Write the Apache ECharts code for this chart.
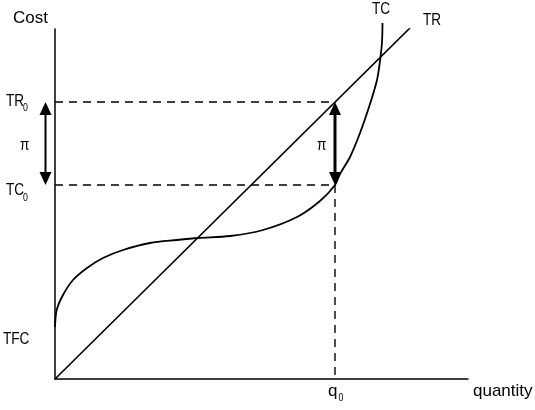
<!DOCTYPE html>
<html>
<head>
<meta charset="utf-8">
<script src="https://cdn.jsdelivr.net/npm/echarts@6/dist/echarts.min.js"></script>
<style>html,body{margin:0;padding:0;background:#fff;}#c{width:535px;height:410px;}</style>
</head>
<body>
<div id="c"></div>
<script>
// ---- data (arbitrary units: quantity on x, cost/revenue on y) ----
const tcCurve = [
  [0, 52], [1.7, 69], [8, 84], [18, 99], [32, 111], [48, 121], [68, 129],
  [95, 136], [122, 139], [143, 141], [175, 143], [208, 149], [242, 162],
  [265, 178], [280, 194], [285, 205], [295, 222], [305, 246], [315, 275],
  [322, 299], [325, 318], [327, 337], [327.5, 356]
];
const trLine = [[0, 0], [360, 356]];
const q0 = 280;
const TR0 = 277;
const TC0 = 194;
const leftArrowX = -9.5;
// arrows: [x, from, to]
const arrows = [[leftArrowX, TC0, TR0], [q0, TC0, TR0]];
const xMax = 413, yMax = 350;

const shaftWidths = [2, 3];
const fam = '"Liberation Sans", Arial, sans-serif';

// text placed with its left edge at x and vertical middle at y; sx = horizontal squeeze (narrow face)
function txt(text, x, y, size, sx) {
  return {
    type: 'text', x: x, y: y, scaleX: sx || 1,
    style: { text: text, font: size + 'px ' + fam, fill: '#000', align: 'left', verticalAlign: 'middle' }
  };
}
const N = 0.8;

const chart = echarts.init(document.getElementById('c'), null, { renderer: 'canvas' });
chart.setOption({
  animation: false,
  backgroundColor: '#fff',
  grid: { left: 55, top: 29, width: 413, height: 350, containLabel: false },
  xAxis: {
    type: 'value', min: 0, max: xMax,
    axisLine: { show: true, lineStyle: { color: '#000', width: 1.5 } },
    axisTick: { show: false }, axisLabel: { show: false }, splitLine: { show: false }
  },
  yAxis: {
    type: 'value', min: 0, max: yMax,
    axisLine: { show: true, lineStyle: { color: '#000', width: 1.5 } },
    axisTick: { show: false }, axisLabel: { show: false }, splitLine: { show: false }
  },
  series: [
    {
      name: 'TR0 level', type: 'line', symbol: 'none', silent: true,
      data: [[0, TR0], [q0, TR0]],
      lineStyle: { color: '#000', width: 1.4, type: [8, 6] }
    },
    {
      name: 'TC0 level', type: 'line', symbol: 'none', silent: true,
      data: [[0, TC0], [q0, TC0]],
      lineStyle: { color: '#000', width: 1.4, type: [8, 6] }
    },
    {
      name: 'q0 level', type: 'line', symbol: 'none', silent: true,
      data: [[q0, TC0], [q0, 0]],
      lineStyle: { color: '#000', width: 1.4, type: [8, 6] }
    },
    {
      name: 'TR', type: 'line', symbol: 'none', data: trLine,
      lineStyle: { color: '#000', width: 1.6 }
    },
    {
      name: 'TC', type: 'line', symbol: 'none', data: tcCurve, smooth: 0.3, clip: false,
      lineStyle: { color: '#000', width: 1.8 }
    },
    {
      name: 'profit', type: 'custom', clip: false, data: arrows,
      renderItem: function (params, api) {
        const a = api.coord([api.value(0), api.value(1)]);
        const b = api.coord([api.value(0), api.value(2)]);
        const x = a[0], yBot = a[1], yTop = b[1];
        const hl = 13, hw = 6;
        const sw = shaftWidths[params.dataIndex];
        return {
          type: 'group',
          children: [
            { type: 'line', shape: { x1: x, y1: yTop + hl - 1, x2: x, y2: yBot - hl + 1 }, style: { stroke: '#000', lineWidth: sw } },
            { type: 'polygon', shape: { points: [[x, yTop], [x - hw, yTop + hl], [x + hw, yTop + hl]] }, style: { fill: '#000' } },
            { type: 'polygon', shape: { points: [[x, yBot], [x - hw, yBot - hl], [x + hw, yBot - hl]] }, style: { fill: '#000' } }
          ]
        };
      }
    }
  ],
  graphic: [
    txt('Cost', 13, 18, 17),
    txt('TR', 6, 101, 17, N), txt('0', 23, 108, 11, N),
    txt('π', 20, 145, 17, N),
    txt('TC', 6, 190, 17, N), txt('0', 23, 198, 11, N),
    txt('TFC', 3, 339, 17, N),
    txt('TC', 372, 9, 17, N),
    txt('TR', 423, 20, 17, N),
    txt('π', 317, 145, 17, N),
    txt('q', 328, 391, 17), txt('0', 338.5, 398, 11, N),
    txt('quantity', 473, 391, 17)
  ]
});
</script>
</body>
</html>
